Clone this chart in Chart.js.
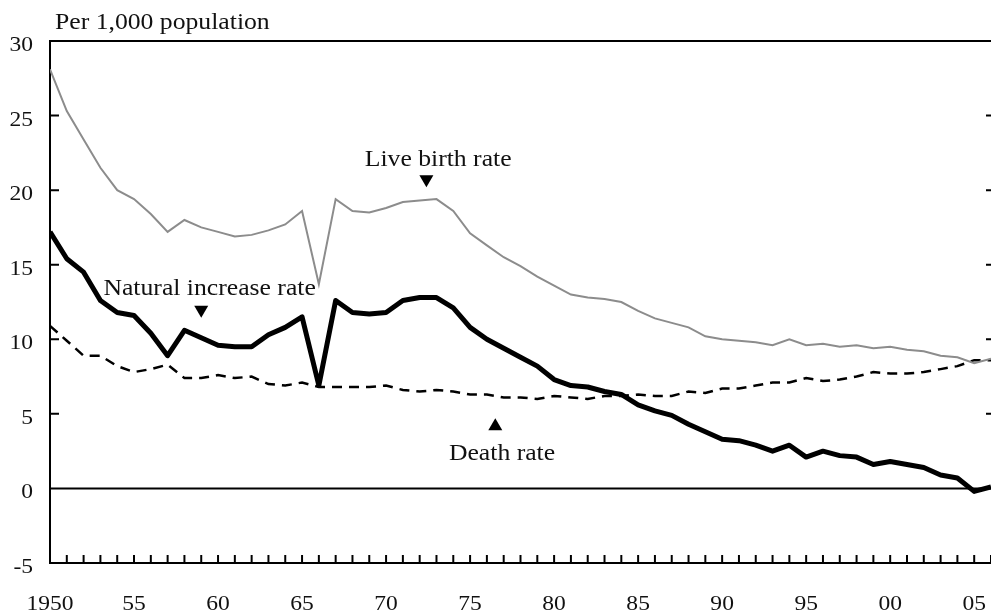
<!DOCTYPE html>
<html>
<head>
<meta charset="utf-8">
<script src="https://cdn.jsdelivr.net/npm/chart.js@4.4.0/dist/chart.umd.min.js"></script>
<style>
html,body{margin:0;padding:0;background:#fff}
canvas{display:block}
</style>
</head>
<body>
<canvas id="rates" width="991" height="615"></canvas>
<script>
/* 出生率・死亡率・自然増加率 (per 1,000) 1950-2006 */
const years = [1950,1951,1952,1953,1954,1955,1956,1957,1958,1959,
  1960,1961,1962,1963,1964,1965,1966,1967,1968,1969,
  1970,1971,1972,1973,1974,1975,1976,1977,1978,1979,
  1980,1981,1982,1983,1984,1985,1986,1987,1988,1989,
  1990,1991,1992,1993,1994,1995,1996,1997,1998,1999,
  2000,2001,2002,2003,2004,2005,2006];
const birthRate = [28.1,25.3,23.4,21.5,20.0,19.4,18.4,17.2,18.0,17.5,
  17.2,16.9,17.0,17.3,17.7,18.6,13.7,19.4,18.6,18.5,
  18.8,19.2,19.3,19.4,18.6,17.1,16.3,15.5,14.9,14.2,
  13.6,13.0,12.8,12.7,12.5,11.9,11.4,11.1,10.8,10.2,
  10.0,9.9,9.8,9.6,10.0,9.6,9.7,9.5,9.6,9.4,
  9.5,9.3,9.2,8.9,8.8,8.4,8.7];
const deathRate = [10.9,9.9,8.9,8.9,8.2,7.8,8.0,8.3,7.4,7.4,
  7.6,7.4,7.5,7.0,6.9,7.1,6.8,6.8,6.8,6.8,
  6.9,6.6,6.5,6.6,6.5,6.3,6.3,6.1,6.1,6.0,
  6.2,6.1,6.0,6.2,6.2,6.3,6.2,6.2,6.5,6.4,
  6.7,6.7,6.9,7.1,7.1,7.4,7.2,7.3,7.5,7.8,
  7.7,7.7,7.8,8.0,8.2,8.6,8.6];
const naturalIncrease = [17.2,15.4,14.5,12.6,11.8,11.6,10.4,8.9,10.6,10.1,
  9.6,9.5,9.5,10.3,10.8,11.5,6.9,12.6,11.8,11.7,
  11.8,12.6,12.8,12.8,12.1,10.8,10.0,9.4,8.8,8.2,
  7.3,6.9,6.8,6.5,6.3,5.6,5.2,4.9,4.3,3.8,
  3.3,3.2,2.9,2.5,2.9,2.1,2.5,2.2,2.1,1.6,
  1.8,1.6,1.4,0.9,0.7,-0.2,0.1];
const yTicks = [-5,0,5,10,15,20,25,30];

const SERIF = '"Liberation Serif","Times New Roman",serif';
const pts = arr => arr.map((v,i) => ({x: years[i], y: v}));
const yearLabel = v => v === 1950 ? '1950' : String(v).slice(2);

// 横に少し伸ばした文字
function txt(ctx, s, x, y, size, align) {
  ctx.save();
  ctx.translate(x, y);
  ctx.scale(1.07, 1);
  ctx.font = size + 'px ' + SERIF;
  ctx.fillStyle = '#111';
  ctx.textAlign = align;
  ctx.textBaseline = 'alphabetic';
  ctx.fillText(s, 0, 0);
  ctx.restore();
}
function tri(ctx, x, y, w, h, up) {
  ctx.beginPath();
  if (up) { ctx.moveTo(x, y - h); ctx.lineTo(x + w/2, y); ctx.lineTo(x - w/2, y); }
  else { ctx.moveTo(x, y + h); ctx.lineTo(x + w/2, y); ctx.lineTo(x - w/2, y); }
  ctx.closePath();
  ctx.fillStyle = '#000';
  ctx.fill();
}

const frame = {
  id: 'frame',
  beforeDatasetsDraw(chart) {
    const {ctx, chartArea: a, scales: {x, y}} = chart;
    ctx.save();
    ctx.strokeStyle = '#000';
    // 0 line
    ctx.lineWidth = 2;
    ctx.beginPath();
    ctx.moveTo(a.left, y.getPixelForValue(0));
    ctx.lineTo(a.right, y.getPixelForValue(0));
    ctx.stroke();
    // top border
    ctx.beginPath();
    ctx.moveTo(a.left, a.top);
    ctx.lineTo(a.right, a.top);
    ctx.stroke();
    // year ticks (inside)
    x.ticks.forEach(t => {
      if (t.value === years[0]) return;
      const px = x.getPixelForValue(t.value);
      ctx.beginPath();
      ctx.moveTo(px, a.bottom);
      ctx.lineTo(px, a.bottom - 8);
      ctx.stroke();
    });
    // y ticks, left and right
    yTicks.forEach(v => {
      if (v === -5 || v === 30 || v === 0) return;
      const py = y.getPixelForValue(v);
      ctx.beginPath();
      ctx.moveTo(a.left, py); ctx.lineTo(a.left + 9, py);
      ctx.moveTo(a.right, py); ctx.lineTo(a.right - 5, py);
      ctx.stroke();
    });
    ctx.restore();
  },
  afterDraw(chart) {
    const {ctx, scales: {x, y}} = chart;
    // tick labels
    x.ticks.forEach(t => {
      if (t.value % 5 !== 0) return;
      txt(ctx, yearLabel(t.value), x.getPixelForValue(t.value), 610, 22, 'center');
    });
    yTicks.forEach(v => {
      txt(ctx, String(v), 33, y.getPixelForValue(v) + 10, 22, 'right');
    });
    // title
    txt(ctx, 'Per 1,000 population', 55, 29, 24, 'left');
    // annotations
    txt(ctx, 'Live birth rate', x.getPixelForValue(1973.1), y.getPixelForValue(21.6), 24, 'center');
    tri(ctx, x.getPixelForValue(1972.4), y.getPixelForValue(21.0), 14, 12, false);
    txt(ctx, 'Natural increase rate', x.getPixelForValue(1959.5), y.getPixelForValue(13.0), 24, 'center');
    tri(ctx, x.getPixelForValue(1959.0), y.getPixelForValue(12.25), 14, 12, false);
    txt(ctx, 'Death rate', x.getPixelForValue(1976.9), y.getPixelForValue(1.9), 24, 'center');
    tri(ctx, x.getPixelForValue(1976.5), y.getPixelForValue(3.9), 14, 12, true);
  }
};

new Chart(document.getElementById('rates').getContext('2d'), {
  type: 'line',
  data: {
    datasets: [
      { label: 'Live birth rate', data: pts(birthRate), borderColor: '#8c8c8c', borderWidth: 2, pointRadius: 0, tension: 0 },
      { label: 'Natural increase rate', data: pts(naturalIncrease), borderColor: '#000', borderWidth: 5, pointRadius: 0, tension: 0, borderJoinStyle: 'round' },
      { label: 'Death rate', data: pts(deathRate), borderColor: '#000', borderWidth: 2.5, borderDash: [10, 7], pointRadius: 0, tension: 0 }
    ]
  },
  options: {
    responsive: false, animation: false,
    layout: { padding: { top: 41, right: 0, left: 0, bottom: 0 } },
    scales: {
      x: { type: 'linear', min: 1950, max: 2006,
        ticks: { display: false, stepSize: 1 },
        grid: { display: false, drawTicks: false },
        border: { display: true, color: '#000', width: 2 },
        afterFit: s => { s.height = 52; } },
      y: { min: -5, max: 30,
        ticks: { display: false, stepSize: 5 },
        grid: { display: false, drawTicks: false },
        border: { display: true, color: '#000', width: 2 },
        afterFit: s => { s.width = 50; } }
    },
    plugins: { legend: { display: false }, tooltip: { enabled: false } }
  },
  plugins: [frame]
});
</script>
</body>
</html>
